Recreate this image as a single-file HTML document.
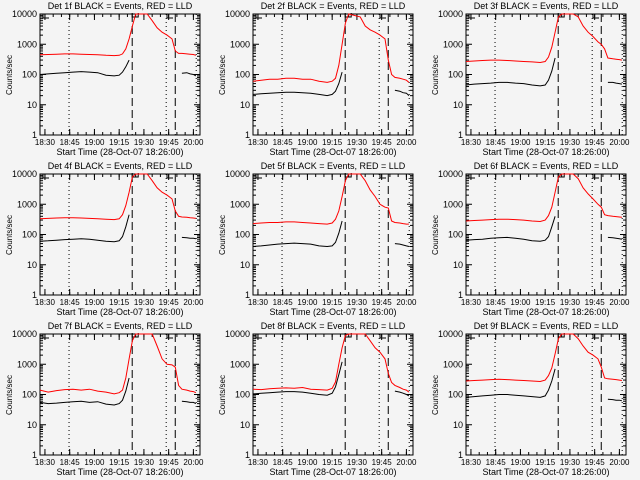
<!DOCTYPE html>
<html><head><meta charset="utf-8"><style>
html,body{margin:0;padding:0;background:#f4f4f4;}
svg{display:block;font-family:"Liberation Sans",sans-serif;}
text{font-size:9px;fill:#000;}
text.xt{font-size:8px;}
</style></head><body>
<svg id="c" width="640" height="480" viewBox="0 0 640 480"></svg>
<script>
const times=[27,32,37,42,47,52,57,62,67,72,75,77,79,81,83,85,92,95,98,101,104,107,109,111,113,116,118,120,121.5];
const detNames=["1f","2f","3f","4f","5f","6f","7f","8f","9f"];
const xTickLabels=["18:30","18:45","19:00","19:15","19:30","19:45","20:00"];
const xTickTimes=[30,45,60,75,90,105,120];
const yTickValues=[1,10,100,1000,10000];
const yTickLabels=["1","10","100","1000","10000"];
const dottedTimes=[44.6,103.5,121.7];
const dashedTimes=[82.9,109];
const N=null;
const red1=[450,460,470,480,480,470,460,450,430,420,430,480,700,1500,4000,12000,15000,6000,3500,2500,2000,1500,600,500,500,480,470,460,430];
const blk1=[100,105,110,115,120,125,120,115,95,90,95,120,180,300,N,N,N,N,N,N,N,N,N,N,110,115,105,100,90];
const red2=[60,65,70,70,75,75,70,70,60,55,60,75,200,1000,5000,15000,8000,4000,3000,2500,2000,1500,300,100,80,75,70,65,55];
const blk2=[22,23,24,25,26,26,25,24,22,20,22,28,50,120,N,N,N,N,N,N,N,N,N,N,30,28,25,24,20];
const red3=[270,280,290,300,300,290,280,270,260,250,270,380,800,2500,8000,15000,20000,8000,4000,2500,1800,1200,1000,700,350,330,320,310,300];
const blk3=[45,48,50,52,55,55,52,50,45,42,45,65,130,350,N,N,N,N,N,N,N,N,N,N,55,55,52,50,48];
const red4=[330,340,350,360,360,350,340,330,320,310,330,450,900,2500,8000,15000,20000,6000,3500,2500,2000,1500,600,400,380,370,360,350,340];
const blk4=[60,62,65,68,70,72,70,65,60,58,62,85,180,450,N,N,N,N,N,N,N,N,N,N,80,78,75,75,72];
const red5=[230,240,250,250,260,260,250,240,230,220,240,320,600,1800,6000,15000,20000,6000,3000,1800,1000,800,750,280,250,240,230,220,220];
const blk5=[40,42,45,48,50,52,50,48,42,40,42,55,110,280,N,N,N,N,N,N,N,N,N,N,50,48,45,42,40];
const red6=[280,290,300,310,320,320,310,300,280,270,300,420,800,2500,8000,15000,20000,7000,3500,2200,1500,1000,800,450,420,400,390,380,370];
const blk6=[65,68,70,75,78,80,75,70,62,60,65,85,180,400,N,N,N,N,N,N,N,N,N,N,80,78,75,72,70];
const red7=[140,120,135,145,150,140,150,130,120,105,115,140,350,1500,6000,15000,20000,12000,4000,1500,1000,950,800,200,150,140,130,125,115];
const blk7=[55,50,52,55,58,60,55,58,48,45,50,65,130,350,N,N,N,N,N,N,N,N,N,N,60,58,55,55,50];
const red8=[150,145,155,160,165,160,170,150,145,140,160,260,1000,3500,9000,15000,20000,10000,6000,3500,2500,1500,500,250,200,170,150,140,120];
const blk8=[105,110,115,120,125,125,120,110,100,95,110,180,450,1200,N,N,N,N,N,N,N,N,N,N,130,120,110,100,90];
const red9=[280,290,300,310,320,310,300,290,280,270,300,420,750,2200,7000,15000,20000,7000,4000,2500,2000,1500,800,350,330,320,310,300,290];
const blk9=[80,85,90,95,100,100,95,90,85,80,90,140,280,700,N,N,N,N,N,N,N,N,N,N,70,68,65,65,62];
const redSeries=[red1,red2,red3,red4,red5,red6,red7,red8,red9];
const blkSeries=[blk1,blk2,blk3,blk4,blk5,blk6,blk7,blk8,blk9];

const NS="http://www.w3.org/2000/svg";
const svg=document.getElementById('c');
function mk(tag,attrs,parent){const e=document.createElementNS(NS,tag);for(const k in attrs)e.setAttribute(k,attrs[k]);parent.appendChild(e);return e;}
const L=40,R=200,T0=14,B0=135,TMIN=27,TMAX=124,YMAX=10000;
function xs(t){return L+(t-TMIN)*(R-L)/(TMAX-TMIN);}
function ys(v){return B0-(Math.log10(Math.min(v,YMAX)))*(B0-T0)/4;}

for(let p=0;p<9;p++){
  const ox=[0,213,426][p%3], oy=[0,160,320][Math.floor(p/3)];
  const g=mk('g',{transform:`translate(${ox},${oy})`},svg);
  
  
  const title=mk('text',{x:120,y:9,'text-anchor':'middle'},g);
  title.textContent='Det '+detNames[p]+' BLACK = Events, RED = LLD';
  
  
  const box=mk('rect',{x:L,y:T0,width:R-L,height:B0-T0,fill:'none',stroke:'#000','stroke-width':1},g);
  
  
  yTickValues.forEach((v,i)=>{
    const y=ys(v);
    mk('line',{x1:L,x2:L+6,y1:y,y2:y,stroke:'#000'},g);
    mk('line',{x1:R,x2:R-6,y1:y,y2:y,stroke:'#000'},g);
    const tl=mk('text',{x:L-3,y:y+3,'text-anchor':'end'},g);tl.textContent=yTickLabels[i];
    
    
    if(i<yTickValues.length-1){for(let m=2;m<10;m++){const ym=ys(v*m);
      mk('line',{x1:L,x2:L+3,y1:ym,y2:ym,stroke:'#000'},g);mk('line',{x1:R,x2:R-3,y1:ym,y2:ym,stroke:'#000'},g);}}
  });
  xTickTimes.forEach((t,i)=>{
    const x=xs(t);
    mk('line',{x1:x,x2:x,y1:B0,y2:B0-6,stroke:'#000'},g);
    mk('line',{x1:x,x2:x,y1:T0,y2:T0+6,stroke:'#000'},g);
    const tl=mk('text',{x:x,y:B0+10,'text-anchor':'middle','class':'xt'},g);tl.textContent=xTickLabels[i];
    
    
  });
  for(let t=30;t<TMAX;t+=5){const x=xs(t);mk('line',{x1:x,x2:x,y1:B0,y2:B0-3,stroke:'#000'},g);mk('line',{x1:x,x2:x,y1:T0,y2:T0+3,stroke:'#000'},g);}
  const xt=mk('text',{x:120,y:155,'text-anchor':'middle'},g);
  xt.textContent='Start Time (28-Oct-07 18:26:00)';
  
  
  const yt=mk('text',{x:12,y:75,'text-anchor':'middle',transform:'rotate(-90 12 75)','class':'xt'},g);
  yt.textContent='Counts/sec';
  
  
  dottedTimes.forEach(t=>{const l=mk('line',{x1:xs(t),x2:xs(t),y1:T0,y2:B0,stroke:'#000','stroke-dasharray':'1 3'},g);
    
    });
  dashedTimes.forEach(t=>{const l=mk('line',{x1:xs(t),x2:xs(t),y1:T0,y2:B0,stroke:'#000','stroke-dasharray':'8 4'},g);
    
    });
  mk('path',{d:`M${L+3} ${T0}V${T0+4}H${L+9}`,fill:'none',stroke:'#000'},g);
  mk('path',{d:`M${xs(82.9)} ${T0-1}V${T0+3}H${xs(82.9)+6}V${T0-1}`,fill:'none',stroke:'#000'},g);
  mk('path',{d:`M${xs(104)} ${T0}V${T0+4}H${xs(104)+6}M${xs(104)} ${T0}H${xs(104)+6}`,fill:'none',stroke:'#000'},g);
  function series(vals,color,name){
    let d='',pen=false;
    vals.forEach((v,i)=>{if(v===null){pen=false;return;}d+=(pen?'L':'M')+xs(times[i]).toFixed(1)+' '+ys(v).toFixed(1);pen=true;});
    const pth=mk('path',{d:d,fill:'none',stroke:color,'stroke-width':1},g);
    
    
  }
  series(redSeries[p],'#ff0000','lld-series');
  series(blkSeries[p],'#000000','events-series');
}
</script>
</body></html>
